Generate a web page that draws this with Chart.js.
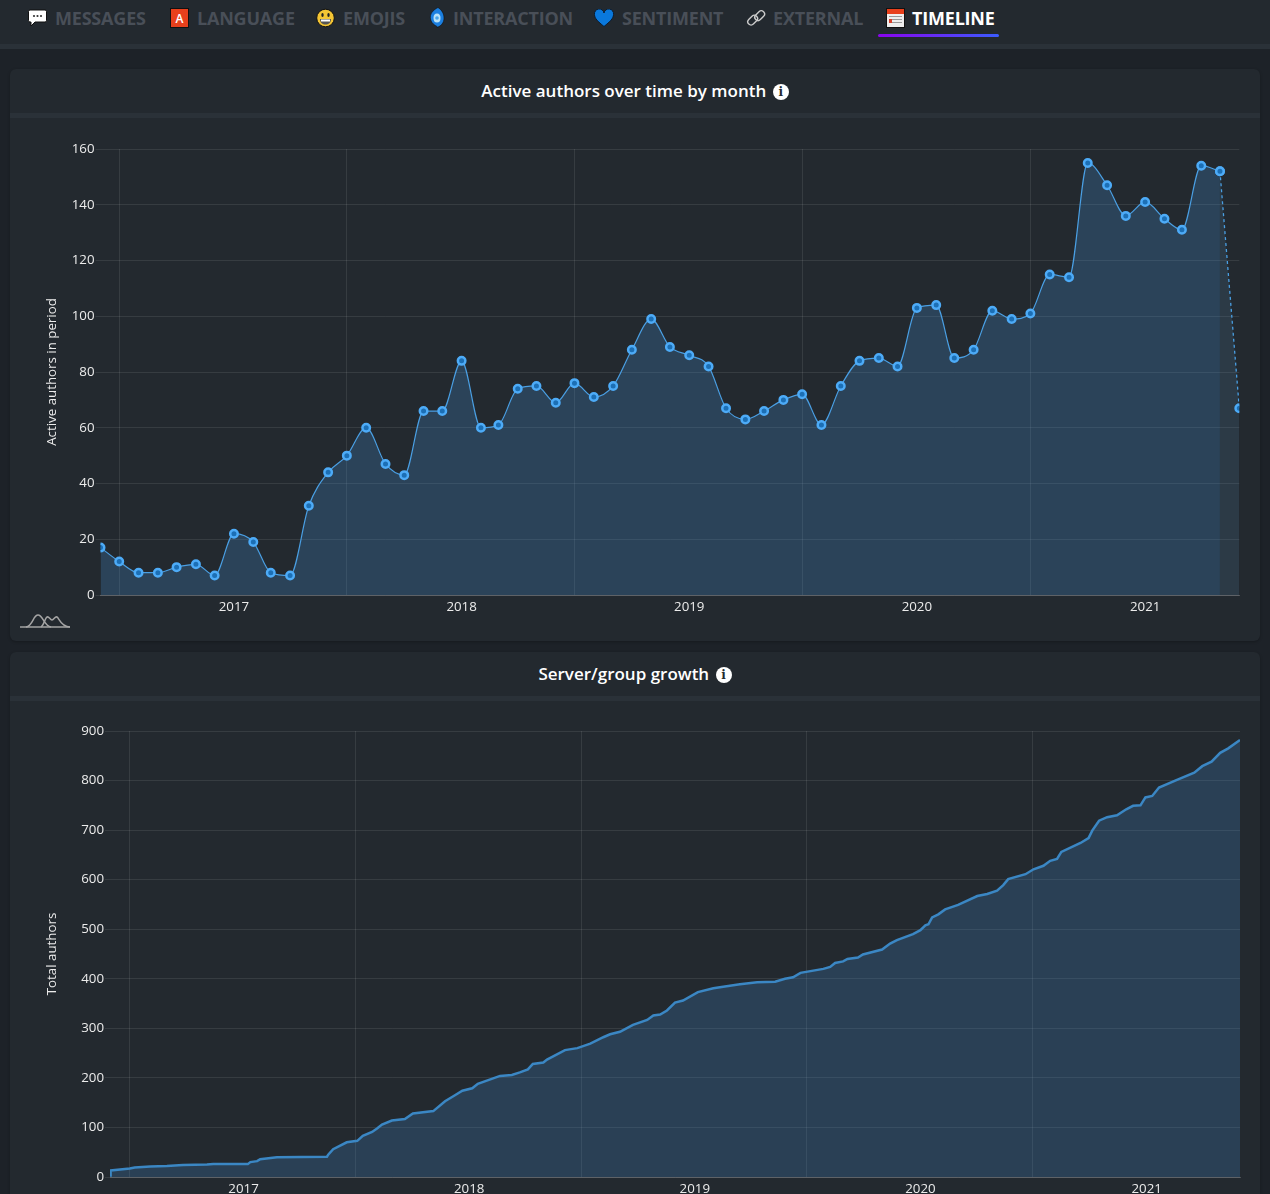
<!DOCTYPE html>
<html>
<head>
<meta charset="utf-8">
<title>Timeline</title>
<script src="https://cdn.jsdelivr.net/npm/chart.js@4/dist/chart.umd.min.js"></script>
<style>
html, body { margin: 0; padding: 0; }
body { width: 1270px; height: 1194px; background: #1d2228; overflow: hidden; position: relative; font-family: "Open Sans", sans-serif; color: #fff; }
.nav { position: absolute; left: 0; top: 0; width: 1270px; height: 44px; background: #23292f; border-bottom: 5px solid #2a3138; }
.tab { position: absolute; top: 6px; font-size: 18px; line-height: 24px; font-weight: 700; color: #494f58; white-space: nowrap; letter-spacing: -.2px; }
.tab.active { color: #fff; }
.icon { position: absolute; }
.underline { position: absolute; left: 878px; top: 34px; width: 121px; height: 3px; border-radius: 2px; background: linear-gradient(90deg, #8a04ee, #3b5cff); }
.card { position: absolute; left: 10px; width: 1250px; background: #23292f; border-radius: 6px; box-shadow: 0 1px 3px rgba(0,0,0,.25); }
.card-head { height: 44px; border-bottom: 5px solid #2a3138; text-align: center; font-size: 17px; line-height: 43px; font-weight: 600; color: #fff; white-space: nowrap; }
.info { display: inline-block; width: 16px; height: 16px; border-radius: 50%; background: #fff; color: #23292f; font-size: 12px; line-height: 16px; font-weight: 800; margin-left: 2px; vertical-align: 1px; font-family: "DejaVu Serif", serif; }
.chart-box { position: absolute; left: 0; top: 49px; width: 1250px; }
canvas { display: block; }
</style>
</head>
<body>
<div class="nav">
  <svg class="icon" style="left:28px;top:9px" width="19" height="19" viewBox="0 0 19 19"><path d="M2 1h15a1.500 1.500 0 0 1 1.500 1.500v9a1.500 1.500 0 0 1-1.500 1.500H7l-4 4v-4H2A1.500 1.500 0 0 1 .5 11.500v-9A1.500 1.500 0 0 1 2 1z" fill="#fff" stroke="#111"/><circle cx="6" cy="7" r="1.100" fill="#333"/><circle cx="9.500" cy="7" r="1.100" fill="#333"/><circle cx="13" cy="7" r="1.100" fill="#333"/></svg>
  <span class="tab" style="left:55px">MESSAGES</span>
  <svg class="icon" style="left:170px;top:8px" width="19" height="20" viewBox="0 0 19 20"><rect x=".5" y=".5" width="18" height="19" fill="#e8401c" stroke="#111"/><text x="9.500" y="15" font-size="12" font-weight="600" fill="#fff" text-anchor="middle" font-family="Open Sans">A</text></svg>
  <span class="tab" style="left:197px">LANGUAGE</span>
  <svg class="icon" style="left:316px;top:8px" width="19" height="20" viewBox="0 0 19 20"><circle cx="9.500" cy="10" r="8.800" fill="#f4c534" stroke="#111"/><ellipse cx="6.500" cy="7" rx="1.200" ry="2" fill="#222"/><ellipse cx="12.500" cy="7" rx="1.200" ry="2" fill="#222"/><path d="M4 11h11c0 4-2.500 5.500-5.500 5.500S4 15 4 11z" fill="#555"/><rect x="5" y="11.500" width="9" height="2" fill="#fff"/></svg>
  <span class="tab" style="left:343px">EMOJIS</span>
  <svg class="icon" style="left:429px;top:7px" width="16" height="21" viewBox="0 0 16 21"><path d="M9 .5C13 3 15 7 15 11c0 5-3 8-7 9.500C10 19 3 19 1.500 12 .5 7 4 3 9 .5z" fill="#1b7fe0" stroke="#111" stroke-width=".6"/><ellipse cx="8" cy="11" rx="3.500" ry="4.500" fill="#b8e2f8"/><circle cx="8" cy="11" r="1.800" fill="#4aa5e8"/></svg>
  <span class="tab" style="left:453px">INTERACTION</span>
  <svg class="icon" style="left:594px;top:9px" width="20" height="18" viewBox="0 0 20 18"><path d="M10 17.500C4 12.500.5 9.500.5 5.500A4.800 4.800 0 0 1 10 4a4.800 4.800 0 0 1 9.500 1.500c0 4-3.500 7-9.500 12z" fill="#0a78dc" stroke="#0b1c30"/></svg>
  <span class="tab" style="left:622px">SENTIMENT</span>
  <svg class="icon" style="left:746px;top:8px" width="20" height="20" viewBox="0 0 20 20" fill="none" stroke="#ccc" stroke-width="1.400"><rect x="1" y="9" width="11" height="6.500" rx="3.200" transform="rotate(-45 6.500 12)"/><rect x="8" y="4.500" width="11" height="6.500" rx="3.200" transform="rotate(-45 13.500 7.500)"/></svg>
  <span class="tab" style="left:773px">EXTERNAL</span>
  <svg class="icon" style="left:886px;top:8px" width="19" height="20" viewBox="0 0 19 20"><rect x=".5" y=".5" width="18" height="19" fill="#eee" stroke="#111"/><rect x="1" y="1" width="17" height="5" fill="#e8401c"/><g fill="#999"><rect x="3" y="8" width="13" height="1"/><rect x="3" y="11" width="13" height="1"/><rect x="3" y="14" width="13" height="1"/></g><rect x="3" y="11" width="3" height="4" fill="#d9402a"/></svg>
  <span class="tab active" style="left:912px">TIMELINE</span>
  <div class="underline"></div>
</div>

<div class="card" style="top:69px;height:572px">
  <div class="card-head">Active authors over time by month <span class="info">i</span></div>
  <div class="chart-box" style="height:523px"><canvas id="activeChart" width="1250" height="523"></canvas></div>
  <svg class="icon" style="left:10px;top:543px" width="52" height="19" viewBox="0 0 52 19" fill="none" stroke="#a5a5a5" stroke-width="1.500"><path d="M0 15h50"/><path d="M6 15C13 14 13 3 18 3s6 11 13 12"/><path d="M21 15C24 13 25 6 27 5s3 3 5 3 3-4 5-3 4 10 13 10"/></svg>
</div>

<div class="card" style="top:652px;height:560px">
  <div class="card-head">Server/group growth <span class="info">i</span></div>
  <div class="chart-box" style="height:493px"><canvas id="growthChart" width="1250" height="493"></canvas></div>
</div>

<script>
const months = [
  '2016-06','2016-07','2016-08','2016-09','2016-10','2016-11','2016-12',
  '2017-01','2017-02','2017-03','2017-04','2017-05','2017-06','2017-07','2017-08','2017-09','2017-10','2017-11','2017-12',
  '2018-01','2018-02','2018-03','2018-04','2018-05','2018-06','2018-07','2018-08','2018-09','2018-10','2018-11','2018-12',
  '2019-01','2019-02','2019-03','2019-04','2019-05','2019-06','2019-07','2019-08','2019-09','2019-10','2019-11','2019-12',
  '2020-01','2020-02','2020-03','2020-04','2020-05','2020-06','2020-07','2020-08','2020-09','2020-10','2020-11','2020-12',
  '2021-01','2021-02','2021-03','2021-04','2021-05','2021-06'
];
const activeAuthors = [
  17,12,8,8,10,11,7,
  22,19,8,7,32,44,50,60,47,43,66,66,
  84,60,61,74,75,69,76,71,75,88,99,89,
  86,82,67,63,66,70,72,61,75,84,85,82,
  103,104,85,88,102,99,101,115,114,155,147,136,
  141,135,131,154,152,67
];

// days since growthStart
const growthStart = '2016-05-30';
const growthDays = [
  0,1,32,40,65,92,118,157,167,223,227,238,243,270,351,353,361,383,400,409,424,432,440,456,477,490,523,
  542,558,570,586,595,631,650,663,676,684,701,707,736,756,777,798,809,825,846,869,879,890,901,914,927,951,976,992,
  1019,1047,1076,1092,1105,1117,1154,1165,1173,1186,1193,1210,1218,1249,1262,1273,1299,1311,1319,1324,1330,1340,1351,1372,
  1403,1419,1435,1445,1453,1481,1494,1510,1521,1532,1539,1570,1583,1589,1600,1613,1629,1644,1655,1667,1675,1686,1697,1727,1754,1767,1782,1796,1809,1828
];
const totalAuthors = [
  3,13,17,19,21,22,24,25,26,26,30,32,36,40,41,45,56,70,73,83,91,98,106,114,117,128,133,
  153,165,174,179,188,204,206,211,217,228,231,237,256,260,269,282,288,293,307,317,326,328,336,352,356,373,381,384,
  389,393,394,400,403,412,420,424,432,435,440,443,449,459,471,478,490,498,508,510,524,530,540,549,
  567,571,578,589,601,611,621,628,638,642,656,674,684,699,719,726,730,742,749,750,766,769,786,802,816,829,838,856,865,882
];

const gridMarks = ['2016-07-01','2017-07-01','2018-07-01','2019-07-01','2020-07-01'];
const yearMarks = ['2017-01-01','2018-01-01','2019-01-01','2020-01-01','2021-01-01'];

const DAY = 86400000;
const toMs = s => Date.parse(s);
const fontFamily = '"Open Sans", sans-serif';
const gridColor = 'rgba(255,255,255,0.09)';
const tickColor = '#ececec';

const buildOptions = (opts) => ({
  responsive: false,
  animation: false,
  layout: { padding: { left: opts.padLeft, right: opts.padRight, top: opts.padTop, bottom: opts.padBottom } },
  plugins: { legend: { display: false }, tooltip: { enabled: false } },
  scales: {
    x: {
      type: 'linear',
      min: opts.min,
      max: opts.max,
      afterBuildTicks: scale => {
        scale.ticks = [...gridMarks, ...yearMarks].map(toMs).sort((a, b) => a - b).map(value => ({ value }));
      },
      afterFit: scale => { scale.height = opts.xHeight; },
      grid: {
        drawTicks: false,
        color: ctx => (ctx.tick && gridMarks.map(toMs).includes(ctx.tick.value)) ? gridColor : 'transparent'
      },
      border: { color: 'rgba(255,255,255,0.2)' },
      ticks: {
        color: tickColor,
        font: { family: fontFamily, size: 13.3 },
        padding: 4,
        maxRotation: 0,
        autoSkip: false,
        callback: value => yearMarks.map(toMs).includes(value) ? String(new Date(value).getUTCFullYear()) : ''
      }
    },
    y: {
      min: 0,
      max: opts.yMax,
      afterFit: scale => { scale.width = opts.yWidth; },
      grid: { color: gridColor, tickLength: 5, tickColor: gridColor },
      border: { display: false },
      ticks: { stepSize: opts.yStep, color: tickColor, font: { family: fontFamily, size: 13.3 }, padding: 1 },
      title: { display: true, text: opts.yTitle, color: tickColor, font: { family: fontFamily, size: 13.3 }, padding: { top: 0, bottom: 0 } }
    }
  }
});

const pointStyle = {
  pointRadius: 3.75,
  pointBorderWidth: 2.5,
  pointBackgroundColor: '#1c6fb5',
  pointBorderColor: '#4dabf7'
};
const activePoints = months.map((m, i) => ({ x: toMs(m + '-01'), y: activeAuthors[i] }));

new Chart(document.getElementById('activeChart').getContext('2d'), {
  type: 'line',
  data: {
    datasets: [{
      // last month is still incomplete: dashed and straight
      data: activePoints.slice(-2),
      borderColor: '#4a9fe3',
      borderWidth: 1.3,
      borderDash: [3, 3],
      backgroundColor: 'rgba(80,130,165,0.2)',
      fill: 'origin',
      clip: 0,
      ...pointStyle
    }, {
      data: activePoints.slice(0, -1),
      borderColor: '#4a9fe3',
      borderWidth: 1.2,
      backgroundColor: 'rgba(62,130,190,0.3)',
      fill: 'origin',
      cubicInterpolationMode: 'monotone',
      clip: 0,
      ...pointStyle
    }]
  },
  options: buildOptions({
    min: toMs('2016-06-01'), max: toMs('2021-06-01'),
    yMax: 160, yStep: 20, yTitle: 'Active authors in period',
    padLeft: 34.5, padRight: 20.7, yWidth: 56, padTop: 31, padBottom: 22, xHeight: 24
  })
});

new Chart(document.getElementById('growthChart').getContext('2d'), {
  type: 'line',
  data: {
    datasets: [{
      data: growthDays.map((d, i) => ({ x: toMs(growthStart) + d * DAY, y: totalAuthors[i] })),
      borderColor: '#3b87c4',
      borderWidth: 2.5,
      backgroundColor: 'rgba(62,130,190,0.27)',
      fill: 'origin',
      pointRadius: 0,
      clip: 0
    }]
  },
  options: buildOptions({
    min: toMs(growthStart), max: toMs(growthStart) + 1828 * DAY,
    yMax: 900, yStep: 100, yTitle: 'Total authors',
    padLeft: 34, padRight: 20, yWidth: 66, padTop: 30, padBottom: 0, xHeight: 17
  })
});
</script>
</body>
</html>
